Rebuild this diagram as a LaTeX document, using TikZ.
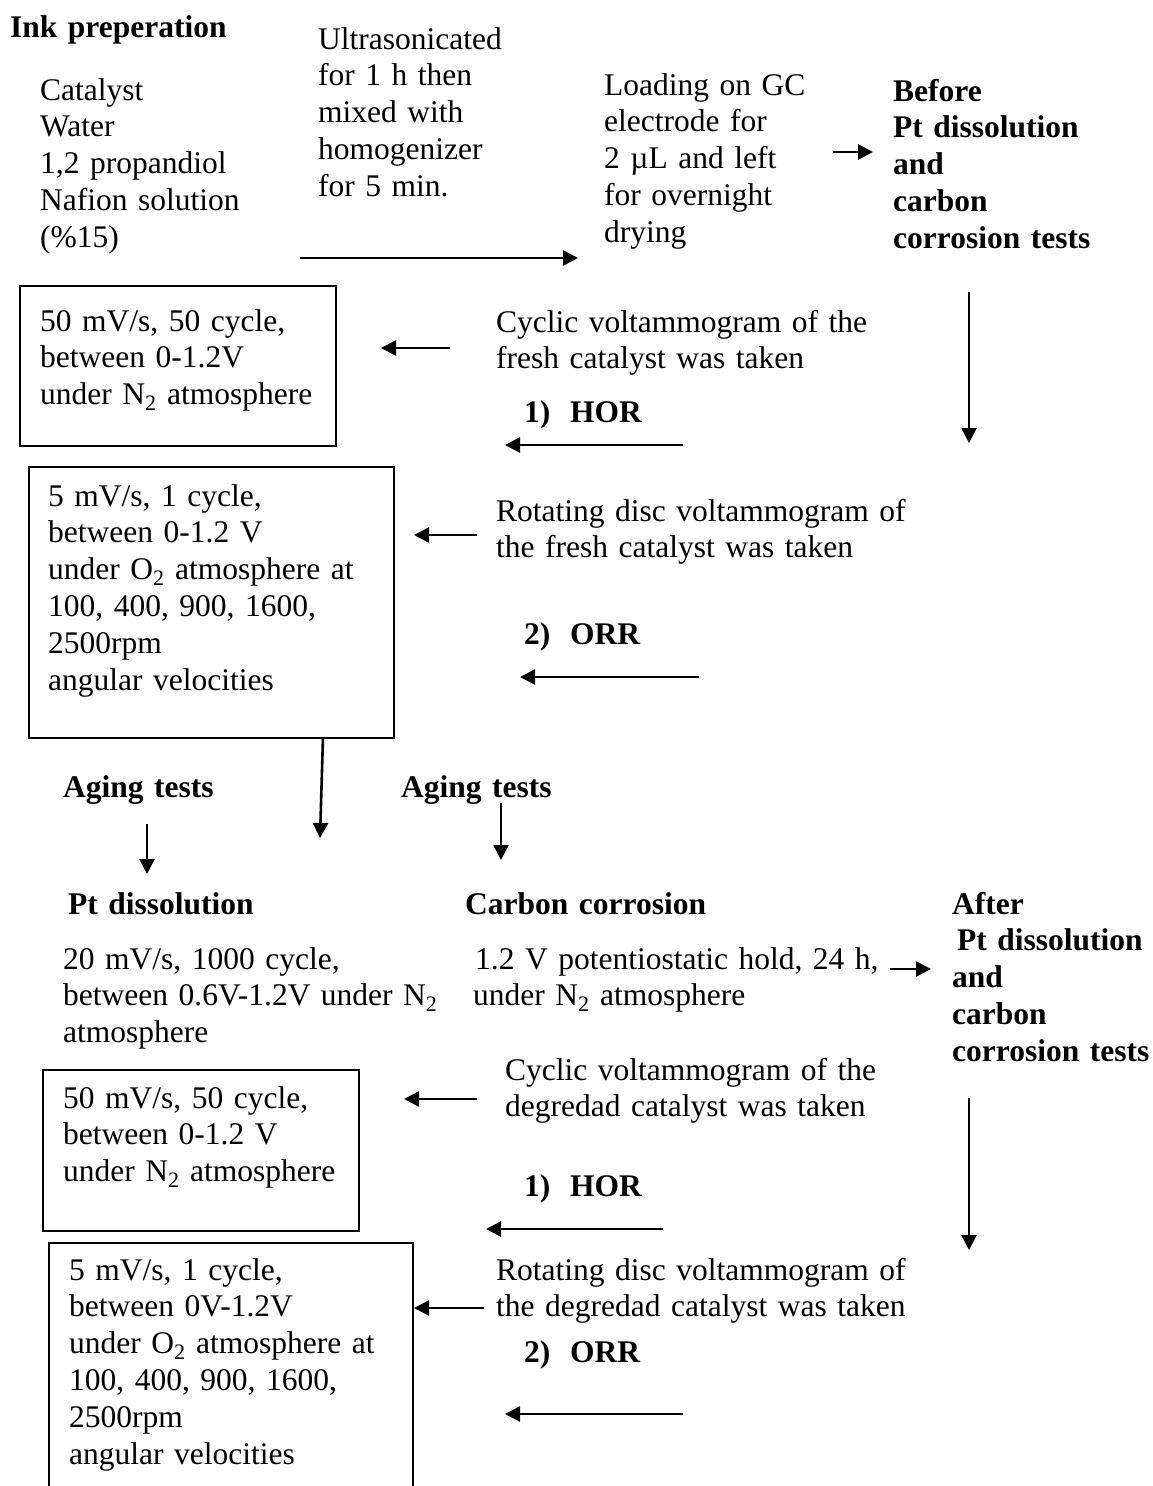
\documentclass[tikz,border=0pt]{standalone}
\usepackage{fontspec}
\setmainfont{Liberation Serif}
\usetikzlibrary{arrows.meta}
\begin{document}
\begin{tikzpicture}[x=1pt,y=-1pt,
  txt/.style={anchor=base west, inner sep=0pt, text width=#1, align=left,
    font=\fontsize{31.5}{36.8}\selectfont},
  txt/.default=460pt,
  btxt/.style={anchor=base west, inner sep=0pt, text width=#1, align=left,
    font=\fontsize{31.5}{36.8}\selectfont\bfseries},
  btxt/.default=460pt,
  boxs/.style={draw, line width=2pt, inner sep=0pt, anchor=north west},
  arr/.style={line width=2.6pt, -{Triangle[length=15pt,width=15pt]}}
]
\useasboundingbox (0,0) rectangle (1152,1486);
\clip (0,0) rectangle (1152,1486);

% ---- top section ----
\node[btxt] (ink) at (10,37) {Ink preperation};
\node[txt] (mix) at (40,100) {Catalyst\\Water\\1,2 propandiol\\Nafion solution\\(\%15)};
\node[txt] (ultra) at (318,49) {Ultrasonicated\\for 1 h then\\mixed with\\homogenizer\\for 5 min.};
\node[txt] (load) at (604,95) {Loading on GC\\electrode for\\2 µL and left\\for overnight\\drying};
\node[btxt] (before) at (893,101) {Before\\Pt dissolution\\and\\carbon\\corrosion tests};

% ---- fresh catalyst ----
\node[boxs, minimum width=316pt, minimum height=160pt] (box1) at (19,285) {};
\node[txt] (box1t) at (40,331) {50 mV/s, 50 cycle,\\between 0-1.2V\\under N\textsubscript{2} atmosphere};
\node[txt] (cyc1) at (496,332) {Cyclic voltammogram of the\\fresh catalyst was taken};
\node[btxt] (hor1) at (524,422) {\makebox[46pt][l]{1)}HOR};

\node[boxs, minimum width=365pt, minimum height=271pt] (box2) at (28,466) {};
\node[txt] (box2t) at (48,506) {5 mV/s, 1 cycle,\\between 0-1.2 V\\under O\textsubscript{2} atmosphere at\\100, 400, 900, 1600,\\2500rpm\\angular velocities};
\node[txt] (rot1) at (496,521) {Rotating disc voltammogram of\\the fresh catalyst was taken};
\node[btxt] (orr1) at (524,644) {\makebox[46pt][l]{2)}ORR};

% ---- aging ----
\node[btxt] (age1) at (63,797) {Aging tests};
\node[btxt] (age2) at (401,797) {Aging tests};
\node[btxt] (ptdis) at (68,914) {Pt dissolution};
\node[btxt] (ccorr) at (465,914) {Carbon corrosion};
\node[btxt] (after) at (952,914) {After\\\hspace*{5pt}Pt dissolution\\and\\carbon\\corrosion tests};
\node[txt] (pt20) at (63,969) {20 mV/s, 1000 cycle,\\between 0.6V-1.2V under N\textsubscript{2}\\atmosphere};
\node[txt] (hold) at (475,969) {1.2 V potentiostatic hold, 24 h,\\\hspace*{-2pt}under N\textsubscript{2} atmosphere};

% ---- degraded catalyst ----
\node[txt] (cyc2) at (505,1080) {Cyclic voltammogram of the\\degredad catalyst was taken};
\node[boxs, minimum width=316pt, minimum height=161pt] (box3) at (42,1069) {};
\node[txt] (box3t) at (63,1108) {50 mV/s, 50 cycle,\\between 0-1.2 V\\under N\textsubscript{2} atmosphere};
\node[btxt] (hor2) at (524,1196) {\makebox[46pt][l]{1)}HOR};

\node[boxs, minimum width=364pt, minimum height=300pt] (box4) at (48,1242) {};
\node[txt] (box4t) at (69,1280) {5 mV/s, 1 cycle,\\between 0V-1.2V\\under O\textsubscript{2} atmosphere at\\100, 400, 900, 1600,\\2500rpm\\angular velocities};
\node[txt] (rot2) at (496,1280) {Rotating disc voltammogram of\\the degredad catalyst was taken};
\node[btxt] (orr2) at (524,1362) {\makebox[46pt][l]{2)}ORR};

% ---- connectors ----
\coordinate (a1s) at (300,258);  \coordinate (a1e) at (578,258);
\coordinate (a2s) at (833,152);  \coordinate (a2e) at (873,152);
\coordinate (a3s) at (969,292);  \coordinate (a3e) at (969,443);
\coordinate (a4s) at (450,348);  \coordinate (a4e) at (381,348);
\coordinate (a5s) at (683,445);  \coordinate (a5e) at (505,445);
\coordinate (a6s) at (477,535);  \coordinate (a6e) at (414,535);
\coordinate (a7s) at (699,677);  \coordinate (a7e) at (520,677);
\coordinate (a8s) at (323,737);  \coordinate (a8e) at (320,838);
\coordinate (a9s) at (147,824);  \coordinate (a9e) at (147,874);
\coordinate (a10s) at (501,803); \coordinate (a10e) at (501,860);
\coordinate (a11s) at (890,969); \coordinate (a11e) at (931,969);
\coordinate (a12s) at (477,1099); \coordinate (a12e) at (404,1099);
\coordinate (a13s) at (663,1229); \coordinate (a13e) at (486,1229);
\coordinate (a14s) at (969,1098); \coordinate (a14e) at (969,1250);
\coordinate (a15s) at (484,1308);
\coordinate (a16s) at (683,1414); \coordinate (a16e) at (505,1414);

\draw[arr] (a1s) -- (a1e);
\draw[arr] (a2s) -- (a2e);
\draw[arr] (a3s) -- (a3e);
\draw[arr] (a4s) -- (a4e);
\draw[arr] (a5s) -- (a5e);
\draw[arr] (a6s) -- (a6e);
\draw[arr] (a7s) -- (a7e);
\draw[arr] (a8s) -- (a8e);
\draw[arr] (a9s) -- (a9e);
\draw[arr] (a10s) -- (a10e);
\draw[arr] (a11s) -- (a11e);
\draw[arr] (a12s) -- (a12e);
\draw[arr] (a13s) -- (a13e);
\draw[arr] (a14s) -- (a14e);
\draw[arr] (a15s) -- (a15s -| box4.east);
\draw[arr] (a16s) -- (a16e);
\end{tikzpicture}
\end{document}
